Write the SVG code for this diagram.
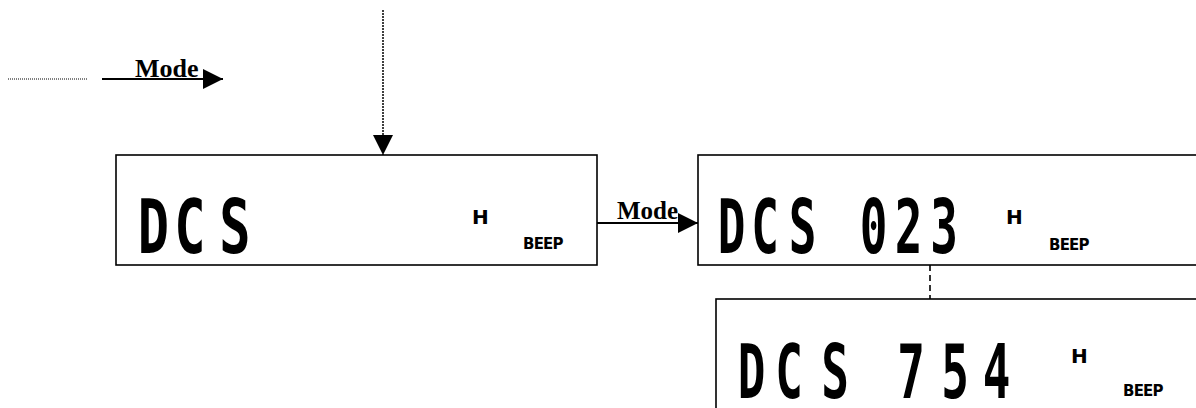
<svg xmlns="http://www.w3.org/2000/svg" width="1196" height="408" viewBox="0 0 1196 408">
<style>
.box{fill:#fff;stroke:#000;stroke-width:1.6}
.lcd{font-family:"DejaVu Sans Mono","Liberation Mono",monospace;font-weight:bold;fill:#000;text-anchor:middle}
.h{font-family:"DejaVu Sans","Liberation Sans",sans-serif;font-weight:bold;font-size:20px;fill:#000}
.beep{font-family:"DejaVu Sans","Liberation Sans",sans-serif;font-weight:bold;font-size:15px;fill:#000;letter-spacing:-0.8px}
.mode{font-family:"Liberation Serif","Times New Roman",serif;font-weight:bold;fill:#000}
.solid{stroke:#000;stroke-width:2;fill:none}
</style>
<defs>
<marker id="ah" markerUnits="userSpaceOnUse" markerWidth="20" markerHeight="20" refX="20" refY="10" orient="auto">
<path d="M0,0 L20,10 L0,20 Z" fill="#000"/>
</marker>
</defs>
<g id="connectors">
<line x1="8" y1="79" x2="87" y2="79" stroke="#000" stroke-width="1" stroke-dasharray="1,1"/>
<line class="solid" x1="102" y1="79" x2="223" y2="79" marker-end="url(#ah)"/>
<line x1="383" y1="10" x2="383" y2="155" stroke="#000" stroke-width="1.5" stroke-dasharray="2,1" marker-end="url(#ah)"/>
<line class="solid" x1="597" y1="223" x2="698" y2="223" marker-end="url(#ah)"/>
<line x1="930" y1="265" x2="930" y2="299" stroke="#000" stroke-width="1.6" stroke-dasharray="6,4"/>
<text class="mode" x="135" y="77" font-size="26">Mode</text>
<text class="mode" x="617" y="219" font-size="25">Mode</text>
</g>
<g id="node1">
<rect class="box" x="116" y="155" width="481" height="110"/>
<text class="lcd" font-size="52" transform="translate(0,253) scale(1,1.43)" x="153.5 190 235" y="0">DCS</text>
<text class="h" x="472" y="224">H</text>
<text class="beep" x="523" y="249">BEEP</text>
</g>
<g id="node2">
<rect class="box" x="698" y="155" width="520" height="110"/>
<text class="lcd" font-size="46" transform="translate(0,253) scale(1,1.61)" x="731.5 765 802.5 838 873.5 908.5 944" y="0">DCS 023</text>
<text class="h" x="1006" y="224">H</text>
<text class="beep" x="1049" y="250">BEEP</text>
</g>
<g id="node3">
<rect class="box" x="716" y="299" width="520" height="130"/>
<text class="lcd" font-size="46" transform="translate(0,398) scale(1,1.61)" x="751.5 789 835 873 911 955 996.5" y="0">DCS 754</text>
<text class="h" x="1071" y="363">H</text>
<text class="beep" x="1123" y="396">BEEP</text>
</g>
</svg>
